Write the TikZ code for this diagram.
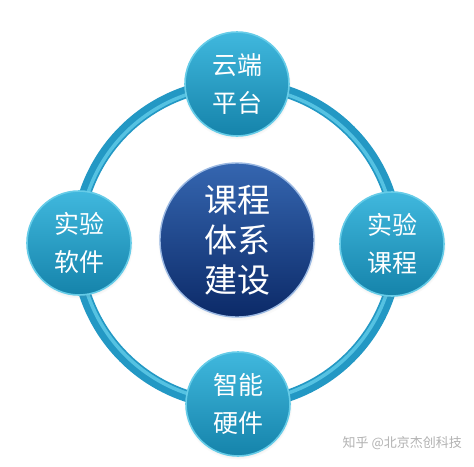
\documentclass[tikz,border=0pt]{standalone}
\usepackage{fontspec}
\newfontfamily\cjk{Noto Sans CJK SC}
\usetikzlibrary{shadows}
\definecolor{ringdark}{HTML}{2398C4}
\definecolor{ringlight}{HTML}{55C2E2}
\definecolor{sattop}{HTML}{40B8DE}
\definecolor{satbot}{HTML}{1583AA}
\definecolor{satrim}{HTML}{66CCE8}
\definecolor{centop}{HTML}{3566B0}
\definecolor{cenbot}{HTML}{0C2A68}
\definecolor{cenrim}{HTML}{9AB8E2}
\tikzset{
  sat/.style={circle, minimum size=104pt, inner sep=0pt, top color=sattop, bottom color=satbot,
    draw=satrim, line width=1.6pt, text=white, align=center,
    font=\cjk\fontsize{25}{38}\selectfont,
    circular drop shadow={shadow xshift=0pt, shadow yshift=-1.5pt, opacity=0.25, shadow scale=1.04}},
  hub/.style={circle, minimum size=154pt, inner sep=0pt, top color=centop, bottom color=cenbot,
    draw=cenrim, line width=1.4pt, text=white, align=center,
    font=\cjk\fontsize{33}{40}\selectfont,
    circular drop shadow={shadow xshift=0pt, shadow yshift=-1.5pt, opacity=0.25, shadow scale=1.03}},
  wmark/.style={text=black!30, font=\cjk\fontsize{13}{15}\selectfont, inner sep=0pt}
}
\begin{document}
\begin{tikzpicture}[x=1pt,y=-1pt]
\fill[white] (0,0) rectangle (474,466);
\useasboundingbox (0,0) rectangle (474,466);
\coordinate (rc) at (237,244);
% ring
\draw[ringdark, line width=12pt] (rc) circle[radius=160];
\draw[ringlight, line width=3.5pt] (rc) circle[radius=157.5];
% hub
\node[hub] (hub) at (237,240) {课程\\体系\\建设};
% satellites
\node[sat] (top) at (237,84) {云端\\平台};
\node[sat] (left) at (79,243) {实验\\软件};
\node[sat] (right) at (392,244) {实验\\课程};
\node[sat] (bottom) at (238,404) {智能\\硬件};
% watermark
\node[wmark, anchor=east] (wm) at (462,443) {知乎 @北京杰创科技};
\end{tikzpicture}
\end{document}
